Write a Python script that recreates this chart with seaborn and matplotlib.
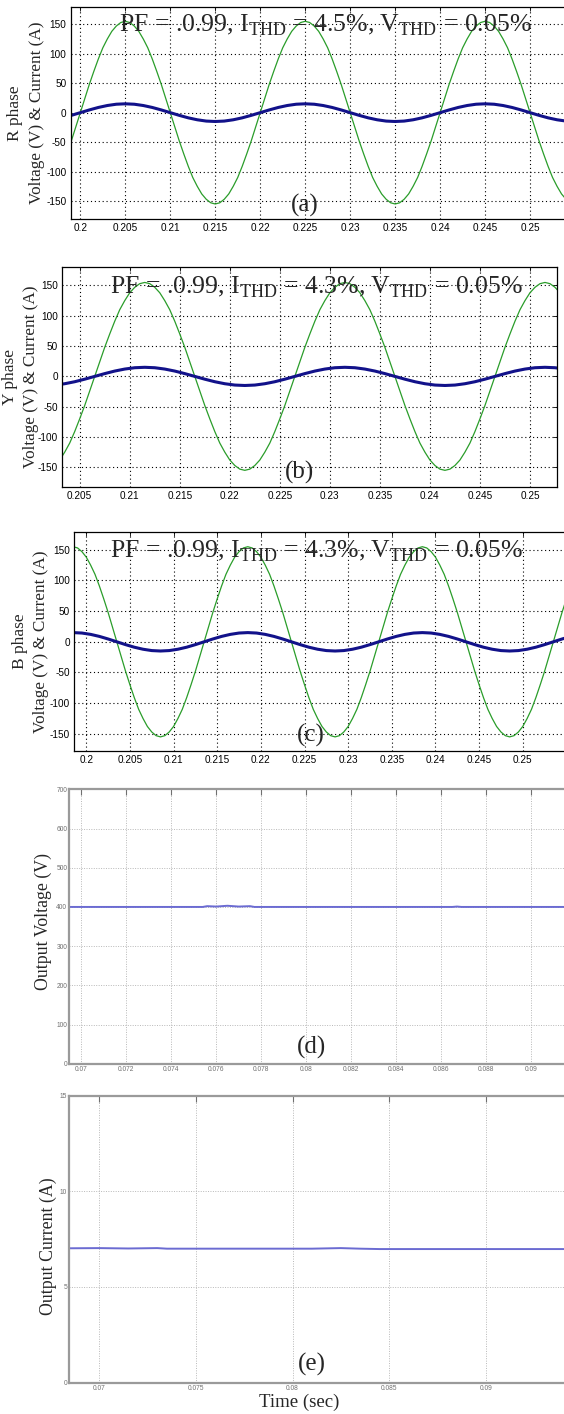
import numpy as np
import matplotlib
matplotlib.use("Agg")
import matplotlib.pyplot as plt
import seaborn as sns
from matplotlib.ticker import FormatStrFormatter

# ---------------- data ----------------
# phase voltages sampled every 0.5 ms, phase currents every 1 ms
r_start = 0.198
r_volt = [-91, -70, -48, -24,
          0, 24, 48, 70, 91, 110, 125, 138, 147, 153, 155, 153, 147, 138, 125, 110, 91, 70, 48, 24,
          0, -24, -48, -70, -91, -110, -125, -138, -147, -153, -155, -153, -147, -138, -125, -110, -91, -70, -48, -24,
          0, 24, 48, 70, 91, 110, 125, 138, 147, 153, 155, 153, 147, 138, 125, 110, 91, 70, 48, 24,
          0, -24, -48, -70, -91, -110, -125, -138, -147, -153, -155, -153, -147, -138, -125, -110, -91, -70, -48, -24,
          0, 24, 48, 70, 91, 110, 125, 138, 147, 153, 155, 153, 147, 138, 125, 110, 91, 70, 48, 24,
          0, -24, -48, -70, -91, -110, -125, -138, -147]
r_curr = [-8.8, -4.6,
          0, 4.6, 8.8, 12.1, 14.3, 15, 14.3, 12.1, 8.8, 4.6, 0, -4.6, -8.8, -12.1, -14.3, -15, -14.3, -12.1, -8.8, -4.6,
          0, 4.6, 8.8, 12.1, 14.3, 15, 14.3, 12.1, 8.8, 4.6, 0, -4.6, -8.8, -12.1, -14.3, -15, -14.3, -12.1, -8.8, -4.6,
          0, 4.6, 8.8, 12.1, 14.3, 15, 14.3, 12.1, 8.8, 4.6, 0, -4.6, -8.8, -12.1, -14.3]

y_start = 0.2025
y_volt = [-147, -138, -125, -110, -91, -70, -48, -24,
          0, 24, 48, 70, 91, 110, 125, 138, 147, 153, 155, 153, 147, 138, 125, 110, 91, 70, 48, 24,
          0, -24, -48, -70, -91, -110, -125, -138, -147, -153, -155, -153, -147, -138, -125, -110, -91, -70, -48, -24,
          0, 24, 48, 70, 91, 110, 125, 138, 147, 153, 155, 153, 147, 138, 125, 110, 91, 70, 48, 24,
          0, -24, -48, -70, -91, -110, -125, -138, -147, -153, -155, -153, -147, -138, -125, -110, -91, -70, -48, -24,
          0, 24, 48, 70, 91, 110, 125, 138, 147, 153, 155, 153, 147, 138, 125, 110]
y_curr = [-14.3, -12.1, -8.8, -4.6,
          0, 4.6, 8.8, 12.1, 14.3, 15, 14.3, 12.1, 8.8, 4.6, 0, -4.6, -8.8, -12.1, -14.3, -15, -14.3, -12.1, -8.8, -4.6,
          0, 4.6, 8.8, 12.1, 14.3, 15, 14.3, 12.1, 8.8, 4.6, 0, -4.6, -8.8, -12.1, -14.3, -15, -14.3, -12.1, -8.8, -4.6,
          0, 4.6, 8.8, 12.1, 14.3, 15, 14.3, 12.1]

b_start = 0.1975
b_volt = [147, 153, 155, 153, 147, 138, 125, 110, 91, 70, 48, 24,
          0, -24, -48, -70, -91, -110, -125, -138, -147, -153, -155, -153, -147, -138, -125, -110, -91, -70, -48, -24,
          0, 24, 48, 70, 91, 110, 125, 138, 147, 153, 155, 153, 147, 138, 125, 110, 91, 70, 48, 24,
          0, -24, -48, -70, -91, -110, -125, -138, -147, -153, -155, -153, -147, -138, -125, -110, -91, -70, -48, -24,
          0, 24, 48, 70, 91, 110, 125, 138, 147, 153, 155, 153, 147, 138, 125, 110, 91, 70, 48, 24,
          0, -24, -48, -70, -91, -110, -125, -138, -147, -153, -155, -153, -147, -138, -125, -110, -91, -70, -48, -24,
          0, 24, 48, 70, 91, 110]
b_curr = [14.3, 15, 14.3, 12.1, 8.8, 4.6, 0, -4.6, -8.8, -12.1, -14.3, -15, -14.3, -12.1, -8.8, -4.6,
          0, 4.6, 8.8, 12.1, 14.3, 15, 14.3, 12.1, 8.8, 4.6, 0, -4.6, -8.8, -12.1, -14.3, -15, -14.3, -12.1, -8.8, -4.6,
          0, 4.6, 8.8, 12.1, 14.3, 15, 14.3, 12.1, 8.8, 4.6, 0, -4.6, -8.8, -12.1, -14.3, -15, -14.3, -12.1, -8.8, -4.6,
          0, 4.6, 8.8]

phase_names = ["R phase", "Y phase", "B phase"]
phase_ithd = ["4.5%", "4.3%", "4.3%"]
phase_vthd = ["0.05%", "0.05%", "0.05%"]
phase_pf = ".0.99"
phase_yticks = [-150, -100, -50, 0, 50, 100, 150]
r_xticks = [0.2, 0.205, 0.21, 0.215, 0.22, 0.225, 0.23, 0.235, 0.24, 0.245, 0.25]
y_xticks = [0.205, 0.21, 0.215, 0.22, 0.225, 0.23, 0.235, 0.24, 0.245, 0.25]
b_xticks = [0.2, 0.205, 0.21, 0.215, 0.22, 0.225, 0.23, 0.235, 0.24, 0.245, 0.25]

# dc output
out_v_time = [0.0694, 0.0754, 0.0756, 0.0760, 0.0765, 0.0770, 0.0775, 0.0777, 0.0865, 0.0867, 0.0869, 0.0918]
out_v = [400, 400, 402, 401, 403, 401, 402, 400, 400, 401, 400, 400]
out_v_xticks = [0.07, 0.072, 0.074, 0.076, 0.078, 0.08, 0.082, 0.084, 0.086, 0.088, 0.09]
out_v_yticks = [0, 100, 200, 300, 400, 500, 600, 700]

out_i_time = [0.0684, 0.0700, 0.0715, 0.0730, 0.0735, 0.0810, 0.0825, 0.0835, 0.0845, 0.0944]
out_i = [7.02, 7.03, 7.01, 7.03, 7.0, 7.0, 7.03, 7.0, 6.98, 6.98]
out_i_xticks = [0.07, 0.075, 0.08, 0.085, 0.09]
out_i_yticks = [0, 5, 10, 15]

# ---------------- style ----------------
sns.set_style("white")
plt.rcParams["font.family"] = ["Liberation Serif", "DejaVu Serif"]
plt.rcParams["mathtext.fontset"] = "custom"
plt.rcParams["mathtext.rm"] = "Liberation Serif"
plt.rcParams["axes.unicode_minus"] = False

W, H = 564, 1414
fig = plt.figure(figsize=(W / 100, H / 100), dpi=100)
fig.patch.set_facecolor("white")


def px_axes(left, top, right, bottom):
    return fig.add_axes([left / W, 1 - bottom / H, (right - left) / W, (bottom - top) / H])


def px_text(x, y, s, **kw):
    fig.text(x / W, 1 - y / H, s, **kw)


GREEN = "#2a9d2a"
NAVY = "#12128a"

# (start, volt, curr, box, xlim, ylim, xticks, label x positions, annotation, tag)
phase_panels = [
    (r_start, r_volt, r_curr, (70.7, 7.3, 570, 219), (0.19893, 0.25444), (-180.5, 178.8), r_xticks,
     (15, 37), (325, 32), (305, 212)),
    (y_start, y_volt, y_curr, (62.1, 267.3, 557.3, 486.7), (0.20324, 0.25273), (-182, 180), y_xticks,
     (10, 31), (316, 293), (300, 479)),
    (b_start, b_volt, b_curr, (74.4, 532.3, 570, 751), (0.19864, 0.25541), (-178, 178.5), b_xticks,
     (20, 41.5), (316, 558), (311, 742)),
]

for i, (t0, volt, curr, box, xlim, ylim, xticks, lab_x, ann, tag) in enumerate(phase_panels):
    ax = px_axes(*box)
    tv = np.round(t0 + 0.0005 * np.arange(len(volt)), 5)
    ti = np.round(t0 + 0.001 * np.arange(len(curr)), 5)
    sns.lineplot(x=tv, y=volt, ax=ax, color=GREEN, linewidth=0.9)
    sns.lineplot(x=ti, y=curr, ax=ax, color=NAVY, linewidth=2.2)
    ax.set_xlim(*xlim)
    ax.set_ylim(*ylim)
    ax.set_xticks(xticks)
    ax.set_yticks(phase_yticks)
    ax.xaxis.set_major_formatter(FormatStrFormatter("%g"))
    ax.grid(True, color="black", linestyle=(0, (1, 2.5)), linewidth=0.8)
    ax.tick_params(direction="in", length=3, width=0.6, top=True, right=True, pad=3,
                   labelsize=7.2, colors="black")
    for lab in ax.get_xticklabels() + ax.get_yticklabels():
        lab.set_family("Liberation Sans")
    for s in ax.spines.values():
        s.set_color("black")
        s.set_linewidth(0.9)
    yc = (box[1] + box[3]) / 2
    px_text(lab_x[0], yc, phase_names[i], rotation=90, ha="center", va="center", fontsize=12.5)
    px_text(lab_x[1], yc, "Voltage (V) & Current (A)", rotation=90, ha="center", va="center",
            fontsize=12.3)
    px_text(ann[0], ann[1],
            "PF = " + phase_pf + r", $\mathrm{I}_{\mathrm{THD}}$ = " + phase_ithd[i]
            + r", $\mathrm{V}_{\mathrm{THD}}$ = " + phase_vthd[i],
            ha="center", va="baseline", fontsize=18.5)
    px_text(tag[0], tag[1], "(" + "abc"[i] + ")", ha="center", va="baseline", fontsize=18)

# dc output panels
LINE = "#6b6bd2"
dc_panels = [
    (out_v_time, out_v, (69.3, 789.3, 570, 1063.8), (0.069471, 0.091724), (0, 700), out_v_xticks,
     out_v_yticks, "Output Voltage (V)", (43.3, 922), (311.7, 1054), "(d)"),
    (out_i_time, out_i, (69.3, 1095.5, 570, 1382.7), (0.068447, 0.094363), (0, 15), out_i_xticks,
     out_i_yticks, "Output Current (A)", (48.3, 1246), (311.7, 1371), "(e)"),
]

for t, vals, box, xlim, ylim, xticks, yticks, ylab, ylab_pos, tag_pos, tag in dc_panels:
    ax = px_axes(*box)
    sns.lineplot(x=t, y=vals, ax=ax, color=LINE, linewidth=1.4)
    ax.set_xlim(*xlim)
    ax.set_ylim(*ylim)
    ax.set_xticks(xticks)
    ax.set_yticks(yticks)
    ax.xaxis.set_major_formatter(FormatStrFormatter("%g"))
    ax.grid(True, color="#b8b8b8", linestyle=(0, (1, 1.5)), linewidth=0.7)
    ax.tick_params(direction="in", length=4, width=0.8, top=True, right=False, pad=1.5,
                   labelsize=4.8, colors="#707070")
    for lab in ax.get_xticklabels() + ax.get_yticklabels():
        lab.set_family("Liberation Sans")
    for s in ax.spines.values():
        s.set_color("#9a9a9a")
        s.set_linewidth(1.6)
    px_text(ylab_pos[0], ylab_pos[1], ylab, rotation=90, ha="center", va="center", fontsize=12.8)
    px_text(tag_pos[0], tag_pos[1], tag, ha="center", va="baseline", fontsize=18)

px_text(299, 1407, "Time (sec)", ha="center", va="baseline", fontsize=13.5)

fig.savefig("out.png", dpi=100, facecolor="white")
